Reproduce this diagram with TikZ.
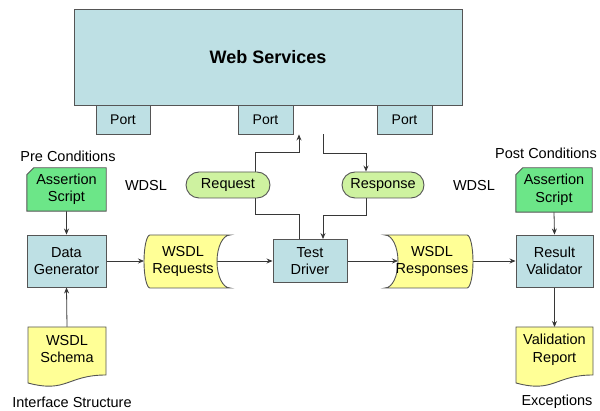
\documentclass[tikz,border=0pt]{standalone}
\usepackage{fontspec}
\setmainfont{Liberation Sans}
\usetikzlibrary{arrows.meta,shapes.misc,calc}
\definecolor{boxblue}{RGB}{190,224,228}
\definecolor{agreen}{RGB}{108,230,136}
\definecolor{pgreen}{RGB}{206,242,160}
\definecolor{docyellow}{RGB}{255,255,150}
\definecolor{edgecol}{RGB}{85,85,85}
\definecolor{conncol}{RGB}{55,55,55}
\pgfdeclarelayer{bg}
\pgfsetlayers{bg,main}
\begin{document}
\begin{tikzpicture}[x=1pt,y=-1pt,
  shp/.style={draw=edgecol, line width=0.9pt},
  bluebox/.style={shp, fill=boxblue, rectangle, inner sep=0pt, align=center, font=\fontsize{14.5}{17.5}\selectfont},
  txt/.style={inner sep=0pt, align=center, font=\fontsize{14.5}{17.5}\selectfont},
  pill/.style={shp, fill=pgreen, rounded rectangle, inner sep=0pt, minimum height=26pt, font=\fontsize{14.5}{17.5}\selectfont},
  conn/.style={draw=conncol, line width=0.8pt},
  arr/.style={conn, -{Stealth[length=6pt,width=5pt]}},
]
\useasboundingbox (0,0) rectangle (600,411);

% top
\node[bluebox, minimum width=388pt, minimum height=96pt, font=\bfseries\fontsize{18}{22}\selectfont] (ws) at (268,57) {Web Services};
\node[bluebox, minimum width=54pt, minimum height=29pt, font=\fontsize{14}{17}\selectfont] (p1) at (123,119.5) {Port};
\node[bluebox, minimum width=55pt, minimum height=29pt, font=\fontsize{14}{17}\selectfont] (p2) at (265.5,119.5) {Port};
\node[bluebox, minimum width=55pt, minimum height=29pt, font=\fontsize{14}{17}\selectfont] (p3) at (404.5,119.5) {Port};

% labels
\node[txt] (pre) at (68,156) {Pre Conditions};
\node[txt] (post) at (546,153) {Post Conditions};
\node[txt] (wd1) at (146,186) {WDSL};
\node[txt] (wd2) at (474,186) {WDSL};
\node[txt] (ifs) at (72,402.5) {Interface Structure};
\node[txt] (exc) at (557,402) {Exceptions};

% assertion scripts
\node[txt, minimum width=79pt, minimum height=43pt] (as1) at (66.5,189.5) {Assertion\\Script};
\node[txt, minimum width=76pt, minimum height=44pt] (as2) at (554,190) {Assertion\\Script};

% main boxes
\node[bluebox, minimum width=79pt, minimum height=52pt] (dg) at (66.5,261) {Data\\Generator};
\node[bluebox, minimum width=74pt, minimum height=43pt] (td) at (310,261) {Test\\Driver};
\node[bluebox, minimum width=77pt, minimum height=52pt] (rv) at (554.5,261) {Result\\Validator};

% pills
\node[pill, minimum width=84pt] (req) at (228,185) {Request};
\node[pill, minimum width=82pt] (resp) at (383,185) {Response};

% data shapes texts
\node[txt] (wreq) at (183,261.5) {WSDL\\Requests};
\node[txt] (wresp) at (432,261.5) {WSDL\\Responses};
\node[txt] (sch) at (67,349) {WSDL\\Schema};
\node[txt] (vrep) at (554.5,350) {Validation\\Report};

\coordinate (wreqL) at (144,261);
\coordinate (wreqR) at (217,261);
\coordinate (wrespL) at (398,261);
\coordinate (wrespR) at (473,261);
\coordinate (schTop) at (67,327);
\coordinate (vrepTop) at (554.5,327);
\coordinate (p2a) at ($(p2.south)+(33.5,0)$);
\coordinate (p2b) at ($(p2.south)+(57.5,0)$);

\begin{pgfonlayer}{bg}
% connectors
\draw[arr] (as1.south) -- (dg.north);
\draw[arr] (schTop) -- (dg.south);
\draw[arr] (dg.east) -- (wreqL);
\draw[arr] (wreqR) -- (td.west);
\draw[arr] (td.east) -- (wrespL);
\draw[arr] (wrespR) -- (rv.west);
\draw[arr] (as2.south) -- (rv.north);
\draw[arr] (rv.south) -- (vrepTop);
\draw[conn] ([xshift=-11pt]td.north) -- ++(0,-25) -| ([xshift=27pt]req.south);
\draw[arr] ([xshift=27pt]req.north) -- ++(0,-19) -| (p2a);
\draw[arr] (p2b) -- ++(0,19) -| ([xshift=-17pt]resp.north);
\draw[arr] ([xshift=-17pt]resp.south) -- ++(0,17) -| ([xshift=13pt]td.north);

% assertion shapes
\draw[shp, fill=agreen] ([yshift=-7pt]as1.north west) -- ([xshift=7pt]as1.north west) -- (as1.north east) -- (as1.south east) -- (as1.south west) -- cycle;
\draw[shp, fill=agreen] ([yshift=-7pt]as2.north west) -- ([xshift=7pt]as2.north west) -- (as2.north east) -- (as2.south east) -- (as2.south west) -- cycle;

% stored data shapes
\draw[shp, fill=docyellow] (150,235) -- (230,235)
  .. controls (222.8,235) and (217,246.9) .. (217,261.5)
  .. controls (217,276.1) and (222.8,288) .. (230,288)
  -- (150,288)
  .. controls (146.7,288) and (144,276.1) .. (144,261.5)
  .. controls (144,246.9) and (146.7,235) .. (150,235) -- cycle;
\draw[shp, fill=docyellow] (385,235) -- (467,235)
  .. controls (470.3,235) and (473,246.9) .. (473,261.5)
  .. controls (473,276.1) and (470.3,288) .. (467,288)
  -- (385,288)
  .. controls (392.2,288) and (398,276.1) .. (398,261.5)
  .. controls (398,246.9) and (392.2,235) .. (385,235) -- cycle;

% document shapes
\draw[shp, fill=docyellow] (28,327) -- (106,327) -- (106,375)
  .. controls (67,375) and (67,393.4) .. (28,383) -- cycle;
\draw[shp, fill=docyellow] (516,327) -- (593,327) -- (593,375)
  .. controls (554.5,375) and (554.5,393.4) .. (516,383) -- cycle;
\end{pgfonlayer}
\end{tikzpicture}
\end{document}
